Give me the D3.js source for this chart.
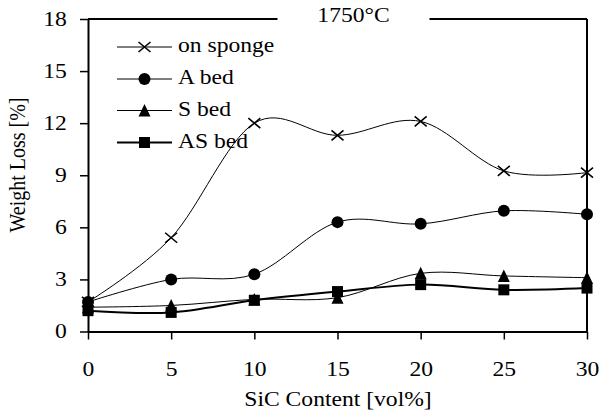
<!DOCTYPE html>
<html>
<head>
<meta charset="utf-8">
<script src="https://cdn.jsdelivr.net/npm/d3@7"></script>
<style>
  body { margin: 0; background: #fff; }
  text { font-family: "Liberation Serif", "Times New Roman", serif; font-size: 20px; fill: #000; }
</style>
</head>
<body>
<svg id="chart" width="601" height="416"></svg>
<script>
// SiC content (vol%) and measured weight loss (%) at 1750°C
const sicContent = [0, 5, 10, 15, 20, 25, 30];
const onSponge = [1.7, 5.4, 12.0, 11.3, 12.1, 9.25, 9.15];
const aBed     = [1.7, 3.0, 3.3, 6.3, 6.2, 6.95, 6.75];
const sBed     = [1.4, 1.5, 1.85, 1.95, 3.35, 3.2, 3.1];
const asBed    = [1.2, 1.1, 1.8, 2.3, 2.7, 2.4, 2.5];
const seriesNames = ["on sponge", "A bed", "S bed", "AS bed"];
const xTicks = [0, 5, 10, 15, 20, 25, 30];
const yTicks = [0, 3, 6, 9, 12, 15, 18];
const titleText = "1750°C";
const xTitle = "SiC Content [vol%]";
const yTitle = "Weight Loss [%]";

const svg = d3.select("#chart");
const plot = { left: 88, right: 587, top: 19, bottom: 331.5 };
const stretch = "scale(1.18,1)";

const x = d3.scaleLinear().domain([0, 30]).range([plot.left, plot.right]);
const y = d3.scaleLinear().domain([0, 18]).range([plot.bottom, plot.top]);

// marker shapes, drawn centred on the origin
const markers = {
  cross: g => g.append("path").attr("d", "M-6,-5L6,5M-6,5L6,-5")
    .attr("stroke", "#000").attr("stroke-width", 1.6).attr("fill", "none"),
  circle: g => g.append("circle").attr("r", 6).attr("fill", "#000"),
  triangle: g => g.append("path").attr("d", "M0,-6.5L6,6L-6,6Z").attr("fill", "#000"),
  square: g => g.append("rect").attr("x", -5.5).attr("y", -5.5)
    .attr("width", 11).attr("height", 11).attr("fill", "#000")
};

const series = [
  { name: seriesNames[0], values: onSponge, marker: "cross", width: 1 },
  { name: seriesNames[1], values: aBed, marker: "circle", width: 1 },
  { name: seriesNames[2], values: sBed, marker: "triangle", width: 1 },
  { name: seriesNames[3], values: asBed, marker: "square", width: 2 }
];

// frame: top border (broken by the title) and right border
svg.append("line").attr("x1", plot.left).attr("x2", plot.right)
  .attr("y1", plot.top).attr("y2", plot.top)
  .attr("stroke", "#000").attr("stroke-width", 2);
svg.append("line").attr("x1", plot.right).attr("x2", plot.right)
  .attr("y1", plot.top).attr("y2", plot.bottom)
  .attr("stroke", "#000").attr("stroke-width", 2);

// axes
const xAxis = svg.append("g").attr("transform", `translate(0,${plot.bottom})`)
  .call(d3.axisBottom(x).tickValues(xTicks).tickSize(8).tickSizeOuter(0).tickPadding(22));
const yAxis = svg.append("g").attr("transform", `translate(${plot.left},0)`)
  .call(d3.axisLeft(y).tickValues(yTicks).tickSize(8).tickSizeOuter(0).tickPadding(10));
[xAxis, yAxis].forEach(a => {
  a.select(".domain").attr("stroke-width", 2);
  a.selectAll(".tick line").attr("stroke-width", 1.5);
  a.selectAll(".tick text").attr("font-size", null).attr("font-family", null)
    .attr("transform", stretch);
});
xAxis.attr("font-size", null).attr("font-family", null);
yAxis.attr("font-size", null).attr("font-family", null);

// series lines and markers
const line = d3.line()
  .x((d, i) => x(sicContent[i]))
  .y(d => y(d))
  .curve(d3.curveCardinal.tension(0));

series.forEach(s => {
  svg.append("path").datum(s.values)
    .attr("d", line).attr("fill", "none")
    .attr("stroke", "#000").attr("stroke-width", s.width);
});
series.forEach(s => {
  s.values.forEach((v, i) => {
    const g = svg.append("g").attr("transform", `translate(${x(sicContent[i])},${y(v)})`);
    markers[s.marker](g);
  });
});

// legend
const legendRows = [47, 79, 110.5, 142.5];
series.forEach((s, i) => {
  const ly = legendRows[i];
  svg.append("line").attr("x1", 117).attr("x2", 172).attr("y1", ly).attr("y2", ly)
    .attr("stroke", "#000").attr("stroke-width", s.width);
  markers[s.marker](svg.append("g").attr("transform", `translate(144.5,${ly})`));
  svg.append("text").attr("transform", `translate(178,${ly + 5}) ${stretch}`).text(s.name);
});

// title over a white gap in the top border
const titleX = 353.5;
svg.append("rect").attr("x", titleX - 76).attr("y", plot.top - 3)
  .attr("width", 152).attr("height", 6).attr("fill", "#fff");
svg.append("text").attr("transform", `translate(${titleX},21.5) ${stretch}`)
  .attr("text-anchor", "middle").text(titleText);

// axis titles
svg.append("text").attr("transform", `translate(338,406) ${stretch}`)
  .attr("text-anchor", "middle").text(xTitle);
svg.append("text").attr("transform", `translate(25,165) ${stretch} rotate(-90)`)
  .attr("text-anchor", "middle").text(yTitle);
</script>
</body>
</html>
